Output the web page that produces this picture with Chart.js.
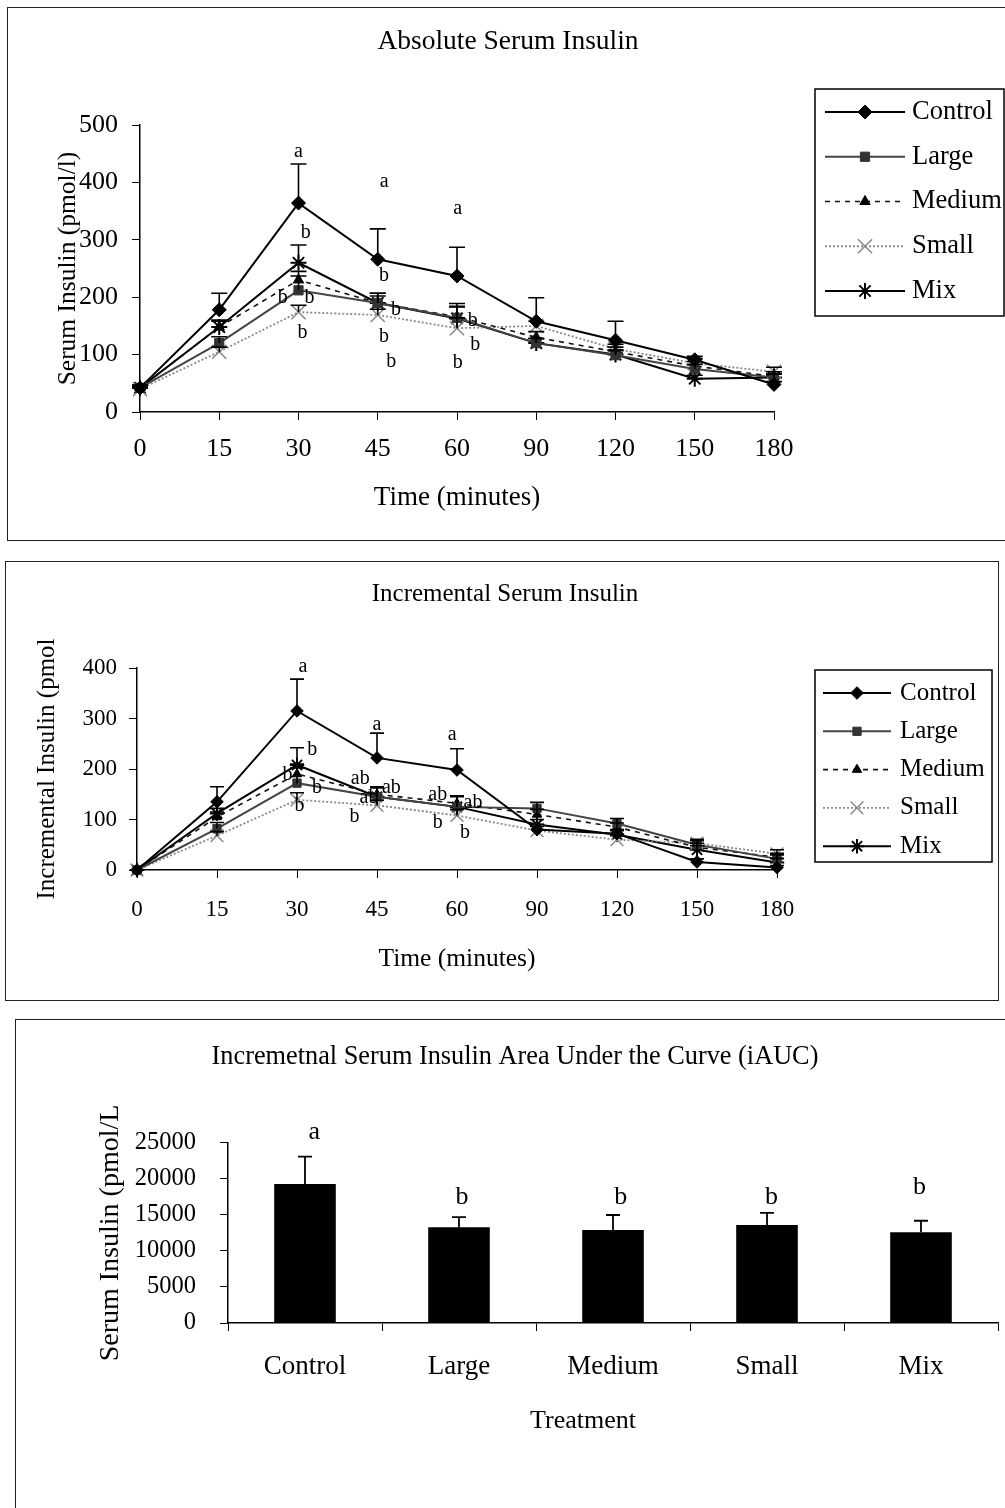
<!DOCTYPE html>
<html><head><meta charset="utf-8">
<script src="https://cdn.jsdelivr.net/npm/chart.js@4.4.1/dist/chart.umd.min.js"></script>
<style>
html,body{margin:0;padding:0;background:#fff;width:1005px;height:1508px;overflow:hidden;position:relative;}
.frame{position:absolute;border:1.5px solid #222;box-sizing:border-box;}
canvas{position:absolute;left:0;}
</style></head><body>
<div class="frame" style="left:7px;top:7px;width:1010px;height:534px"></div>
<div class="frame" style="left:5px;top:561px;width:994px;height:440px"></div>
<div class="frame" style="left:15px;top:1019px;width:1000px;height:500px"></div>
<canvas id="c1" width="1005" height="545" style="top:0"></canvas>
<canvas id="c2" width="1005" height="460" style="top:545px"></canvas>
<canvas id="c3" width="1005" height="503" style="top:1005px"></canvas>
<script>
// ---------- DATA ----------
const timeLabels = ['0','15','30','45','60','90','120','150','180'];
const treatments = ['Control','Large','Medium','Small','Mix'];

// Absolute serum insulin (pmol/l) and SE
const absControl = [42,178,364,266,237,158,125,91,48];
const absLarge   = [42,120,212,190,164,120,99,75,60];
const absMedium  = [42,148,230,190,166,130,105,80,62];
const absSmall   = [40,105,174,169,146,150,110,85,70];
const absMix     = [42,148,260,190,163,120,100,58,60];
const absControlSE = [5,29,68,53,50,41,33,6,5];
const absLargeSE   = [4,11,25,17,25,8,8,8,6];
const absMediumSE  = [4,10,15,17,18,10,8,8,8];
const absSmallSE   = [4,8,12,10,18,8,8,8,8];
const absMixSE     = [4,12,31,12,20,8,8,6,6];
const absYTicks = [0,100,200,300,400,500];
// significance letters: [category position, value, text]
const absLetters = [[2.0,453,'a'],[2.09,312,'b'],[1.8,199,'b'],[2.14,199,'b'],[2.05,138,'b'],
  [3.08,402,'a'],[3.08,237,'b'],[3.23,179,'b'],[3.08,131,'b'],[3.17,87,'b'],
  [4.01,354,'a'],[4.2,159,'b'],[4.23,117,'b'],[4.01,85,'b']];

// Incremental serum insulin and SE
const incControl = [0,135,315,222,198,80,72,16,5];
const incLarge   = [0,82,172,145,125,122,92,50,22];
const incMedium  = [0,105,190,150,132,110,85,45,25];
const incSmall   = [0,68,139,128,108,78,60,53,32];
const incMix     = [0,112,208,145,125,90,70,40,15];
const incControlSE = [0,30,63,49,42,10,8,6,4];
const incLargeSE   = [0,12,30,18,20,12,10,8,8];
const incMediumSE  = [0,10,20,15,15,10,8,8,8];
const incSmallSE   = [0,8,14,10,12,8,8,8,8];
const incMixSE     = [0,10,34,18,22,10,8,8,8];
const incYTicks = [0,100,200,300,400];
const incLetters = [[2.075,402,'a'],[2.19,238,'b'],[1.88,188,'b'],[2.25,162,'b'],[2.03,127,'b'],
  [3.0,287,'a'],[2.79,180,'ab'],[3.18,162,'ab'],[2.9,143,'ab'],[2.72,105,'b'],
  [3.94,267,'a'],[3.76,149,'ab'],[4.2,133,'ab'],[3.76,93,'b'],[4.1,73,'b']];

// iAUC
const iaucMean = [19300,13300,12900,13600,12600];
const iaucSE   = [3800,1400,2100,1700,1600];
const iaucYTicks = [0,5000,10000,15000,20000,25000];
const iaucLetters = [[0.06,26500,'a'],[1.02,17500,'b'],[2.05,17500,'b'],[3.03,17500,'b'],[3.99,18900,'b']];

// ---------- STYLE ----------
const FONT = "'Liberation Serif','Times New Roman',serif";
Chart.defaults.font.family = FONT;
Chart.defaults.color = '#000';

const styleDefs = [
  {color:'#000', width:2, dash:[], point:'rectRot', r:7, fill:'#000', stroke:'#000', pbw:1},
  {color:'#444', width:2, dash:[], point:'rect', r:6.5, fill:'#333', stroke:'#333', pbw:1},
  {color:'#111', width:1.6, dash:[5,5], point:'triangle', r:6, fill:'#000', stroke:'#000', pbw:1},
  {color:'#8a8a8a', width:1.8, dash:[2,2], point:'crossRot', r:10, fill:'#888', stroke:'#888', pbw:1.5},
  {color:'#000', width:2, dash:[], point:'star', r:8, fill:'#000', stroke:'#000', pbw:2},
];

function lineDatasets(seriesList, seList, k){
  return treatments.map((name,i)=>{
    const st = styleDefs[i];
    return {label:name, data:seriesList[i], errors:seList[i],
      borderColor:st.color, borderWidth:st.width, borderDash:st.dash,
      pointStyle:st.point, pointRadius:st.r*k, pointHoverRadius:st.r*k,
      pointBackgroundColor:st.fill, pointBorderColor:st.stroke, pointBorderWidth:st.pbw,
      tension:0, fill:false, clip:false};
  });
}

// ---------- PLUGINS ----------
const errorBarPlugin = {
  id:'errorBars',
  afterDatasetsDraw(chart, args, o){
    const ctx = chart.ctx, ys = chart.scales.y;
    ctx.save(); ctx.strokeStyle = '#000'; ctx.lineWidth = o.lineWidth || 1.5; ctx.setLineDash([]);
    chart.data.datasets.forEach((ds,di)=>{
      if(!ds.errors) return;
      const meta = chart.getDatasetMeta(di);
      meta.data.forEach((el,i)=>{
        const e = ds.errors[i]; if(!e) return;
        const v = ds.data[i];
        const x = el.x, y0 = ys.getPixelForValue(v), y1 = ys.getPixelForValue(v+e);
        ctx.beginPath(); ctx.moveTo(x,y0); ctx.lineTo(x,y1);
        ctx.moveTo(x-o.cap,y1); ctx.lineTo(x+o.cap,y1); ctx.stroke();
      });
    });
    ctx.restore();
  }
};
const letterPlugin = {
  id:'letters',
  afterDatasetsDraw(chart, args, o){
    if(!o.items) return;
    const ctx = chart.ctx, xs = chart.scales.x, ys = chart.scales.y;
    ctx.save(); ctx.fillStyle = '#000'; ctx.font = o.size + 'px ' + FONT;
    ctx.textAlign = 'center'; ctx.textBaseline = 'middle';
    o.items.forEach(([xv,yv,t])=>ctx.fillText(t, xs.getPixelForValue(xv), ys.getPixelForValue(yv)));
    ctx.restore();
  }
};
// x-axis caption placed relative to the chart area (offset from its centre)
const axisCaptionPlugin = {
  id:'axisCaption',
  afterDraw(chart, args, o){
    if(!o.text) return;
    const ctx = chart.ctx, a = chart.chartArea;
    ctx.save(); ctx.fillStyle = '#000'; ctx.font = o.size + 'px ' + FONT;
    ctx.textAlign = 'center'; ctx.textBaseline = 'middle';
    ctx.fillText(o.text, (a.left + a.right)/2 + o.dx, a.bottom + o.dy);
    ctx.restore();
  }
};
const boxLegendPlugin = {
  id:'boxLegend',
  afterDraw(chart, args, o){
    if(!o.box) return;
    const ctx = chart.ctx; const [bx,by,bw,bh] = o.box;
    ctx.save(); ctx.strokeStyle = '#000'; ctx.lineWidth = 1.5; ctx.setLineDash([]); ctx.strokeRect(bx,by,bw,bh);
    chart.data.datasets.forEach((ds,i)=>{
      const y = o.firstY + i*o.rowH;
      ctx.save(); ctx.strokeStyle = ds.borderColor; ctx.lineWidth = ds.borderWidth; ctx.setLineDash(ds.borderDash||[]);
      ctx.beginPath(); ctx.moveTo(o.lineX0,y); ctx.lineTo(o.lineX1,y); ctx.stroke(); ctx.restore();
      ctx.save(); ctx.fillStyle = ds.pointBackgroundColor; ctx.strokeStyle = ds.pointBorderColor;
      ctx.lineWidth = ds.pointBorderWidth; ctx.setLineDash([]);
      Chart.helpers.drawPoint(ctx, {pointStyle:ds.pointStyle, radius:ds.pointRadius, rotation:0, borderWidth:ds.pointBorderWidth}, (o.lineX0+o.lineX1)/2, y);
      ctx.restore();
      ctx.fillStyle = '#000'; ctx.font = o.size + 'px ' + FONT; ctx.textAlign = 'left'; ctx.textBaseline = 'middle';
      ctx.fillText(ds.label, o.textX, y);
    });
    ctx.restore();
  }
};

// ---------- SCALE HELPERS ----------
const axisGrid = {display:true, drawOnChartArea:false, drawTicks:true, tickLength:8, color:'#000', lineWidth:1};
const axisBorder = {display:true, color:'#000', width:1.5};
function yScale(ticksArr, fontSize, width, title, titleFont, titlePadTop, tickPad){
  return {type:'linear', position:'left', min:ticksArr[0], max:ticksArr[ticksArr.length-1],
    afterBuildTicks: s => { s.ticks = ticksArr.map(v=>({value:v})); },
    afterFit: s => { s.width = width; },
    ticks:{font:{size:fontSize}, color:'#000', padding:tickPad, callback: v => String(v)},
    grid:axisGrid, border:axisBorder,
    title:{display:true, text:title, font:{size:titleFont}, color:'#000', padding:{top:titlePadTop, bottom:0}}};
}
function xScale(fontSize, height, title, titleFont, titlePadBottom, tickPad, gridOffset){
  return {type:'category',
    afterFit: s => { s.height = height; },
    ticks:{font:{size:fontSize}, color:'#000', padding:tickPad, maxRotation:0, autoSkip:false},
    grid:Object.assign({}, axisGrid, {offset:!!gridOffset}), border:axisBorder,
    title:{display:!!title, text:title || '', font:{size:titleFont}, color:'#000', padding:{top:0, bottom:titlePadBottom}}};
}
function sideSpace(width){
  return {type:'linear', position:'right', display:true, afterFit: s => { s.width = width; },
    ticks:{display:false}, grid:{display:false}, border:{display:false}};
}
const plugins = [errorBarPlugin, letterPlugin, boxLegendPlugin, axisCaptionPlugin];

// ---------- PANEL 1 ----------
new Chart(document.getElementById('c1'), {
  type:'line',
  data:{labels:timeLabels, datasets:lineDatasets([absControl,absLarge,absMedium,absSmall,absMix],
        [absControlSE,absLargeSE,absMediumSE,absSmallSE,absMixSE], 1)},
  options:{responsive:false, animation:false, devicePixelRatio:1,
    layout:{padding:{left:11, right:0, top:0, bottom:0}},
    scales:{
      x: xScale(26, 133, 'Time (minutes)', 27, 30.8, 14),
      y: yScale(absYTicks, 26, 129, 'Serum Insulin (pmol/l)', 25.5, 42, 14),
      side: sideSpace(231)
    },
    plugins:{
      legend:{display:false}, tooltip:{enabled:false},
      title:{display:true, text:'Absolute Serum Insulin', font:{size:27.5, weight:'normal'}, color:'#000', padding:{top:25, bottom:67}},
      errorBars:{cap:8, lineWidth:1.6},
      letters:{items:absLetters, size:20},
      boxLegend:{box:[815,89,189,227], firstY:112, rowH:44.75, lineX0:825, lineX1:905, textX:912, size:26.5}
    }
  },
  plugins
});

// ---------- PANEL 2 ----------
new Chart(document.getElementById('c2'), {
  type:'line',
  data:{labels:timeLabels, datasets:lineDatasets([incControl,incLarge,incMedium,incSmall,incMix],
        [incControlSE,incLargeSE,incMediumSE,incSmallSE,incMixSE], 0.9)},
  options:{responsive:false, animation:false, devicePixelRatio:1,
    layout:{padding:{left:5, right:0, top:0, bottom:0}},
    scales:{
      x: xScale(23, 135, 'Time (minutes)', 25.5, 30.7, 18),
      y: yScale(incYTicks, 23, 132, 'Incremental Insulin (pmol', 25, 27, 12),
      side: sideSpace(228)
    },
    plugins:{
      legend:{display:false}, tooltip:{enabled:false},
      title:{display:true, text:'Incremental Serum Insulin', font:{size:25, weight:'normal'}, color:'#000', padding:{top:34, bottom:59}},
      errorBars:{cap:7, lineWidth:1.6},
      letters:{items:incLetters, size:20},
      boxLegend:{box:[815,125,177,192], firstY:148, rowH:38.3, lineX0:823, lineX1:891, textX:900, size:25}
    }
  },
  plugins
});

// ---------- PANEL 3 ----------
new Chart(document.getElementById('c3'), {
  type:'bar',
  data:{labels:treatments, datasets:[{label:'iAUC', data:iaucMean, errors:iaucSE,
    backgroundColor:'#000', borderColor:'#000', borderWidth:0, barPercentage:0.4, categoryPercentage:1.0}]},
  options:{responsive:false, animation:false, devicePixelRatio:1,
    layout:{padding:{left:32, right:7, top:0, bottom:0}},
    scales:{
      x: xScale(27, 185, null, 26, 0, 20, true),
      y: yScale(iaucYTicks, 24.5, 196, 'Serum Insulin (pmol/L', 28, 62, 24)
    },
    plugins:{
      legend:{display:false}, tooltip:{enabled:false},
      title:{display:true, text:'Incremetnal Serum Insulin Area Under the Curve (iAUC)', font:{size:26.3, weight:'normal'}, color:'#000', padding:{top:36, bottom:70.4}},
      errorBars:{cap:7, lineWidth:1.8},
      letters:{items:iaucLetters, size:26},
      axisCaption:{text:'Treatment', dx:-30, dy:98, size:26}
    }
  },
  plugins
});
</script>
</body></html>
